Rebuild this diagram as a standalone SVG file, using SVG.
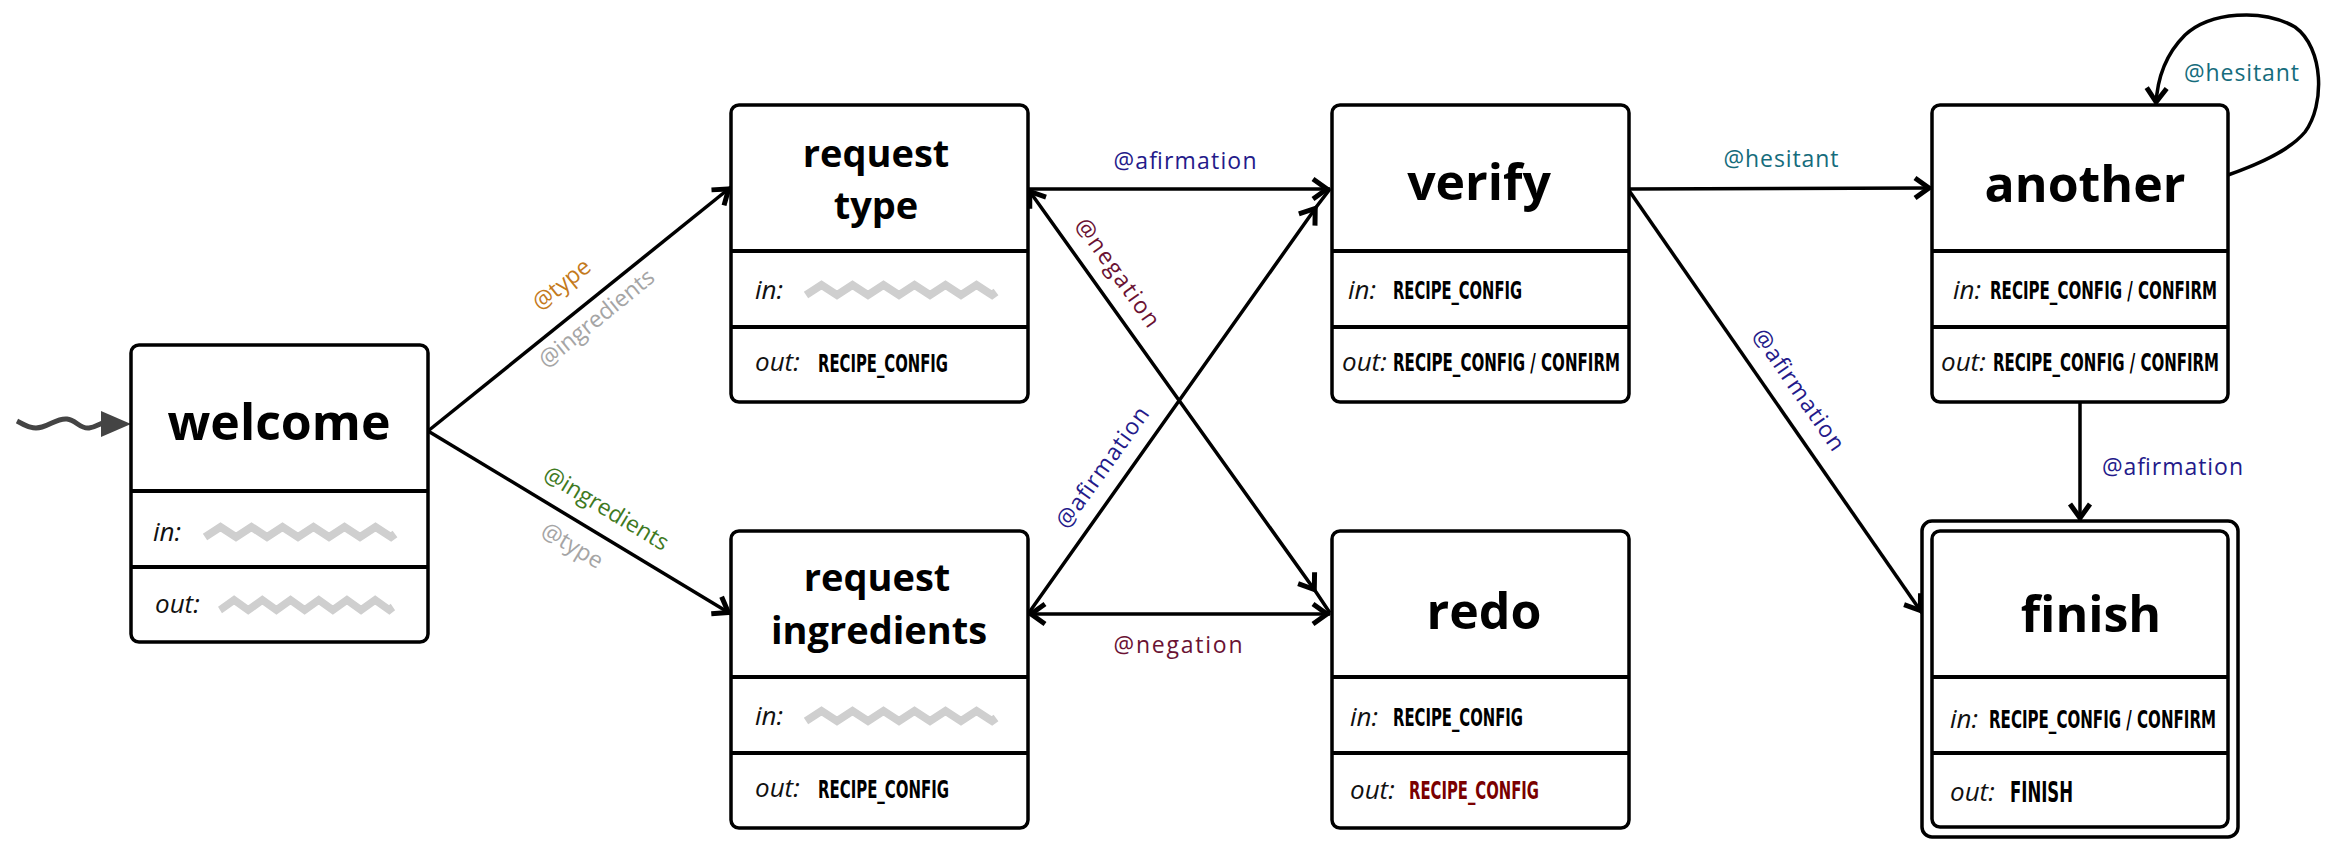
<svg xmlns="http://www.w3.org/2000/svg" xmlns:xlink="http://www.w3.org/1999/xlink" width="2340" height="856" viewBox="0 0 2340 856">
<style>
.box{fill:#fff;stroke:#000;stroke-width:3.5}
.dv{stroke:#000;stroke-width:4}
.title{font-family:"Open Sans","DejaVu Sans",sans-serif;font-weight:700;font-size:50px;text-anchor:middle;fill:#000}
.t2{font-size:38px}
.io{font-family:"Open Sans","DejaVu Sans",sans-serif;font-style:italic;font-size:26px;fill:#111}
.val{font-family:"Liberation Sans Narrow","DejaVu Sans Condensed","Roboto Condensed",sans-serif;font-weight:700;font-size:25px;fill:#000}
.lbl{font-family:"Open Sans","DejaVu Sans",sans-serif;font-size:23px}
.edge{fill:none;stroke:#000;stroke-width:3.5}
.zz{fill:none;stroke:#cfcfcf;stroke-width:8}
.navy{fill:#241a8a}
.maroon{fill:#6a1233}
.teal{fill:#156c7c}
.orange{fill:#c47a1c}
.green{fill:#3f7a1f}
.gray{fill:#a5a5a5}
</style>
<defs>
<marker id="ah" viewBox="-22 -14 26 28" refX="0" refY="0" markerWidth="26" markerHeight="28" markerUnits="userSpaceOnUse" orient="auto-start-reverse">
<path d="M-17,-10 L-3,0 L-17,10" fill="none" stroke="#000" stroke-width="5"/>
</marker>
<path id="zz" d="M0,14 L15.5,4 L31,14 L46.5,4 L62,14 L77.5,4 L93,14 L108.5,4 L124,14 L139.5,4 L155,14 L170.5,4 L186,14 L190,11"/>
</defs>

<g id="connectors">
<g id="initial">
<path d="M17,421 C25,425 32,430 42,427 C52,424 58,418 67,419 C76,420 80,429 89,428 C96,427 100,423 104,423" fill="none" stroke="#444" stroke-width="5"/>
<polygon points="101,411 131,424 101,437" fill="#444"/>
</g>
<path class="edge" d="M428,431 L731,187" marker-end="url(#ah)"/>
<path class="edge" d="M428,431 L731,614" marker-end="url(#ah)"/>
<path class="edge" d="M1028,189 L1330,189" marker-end="url(#ah)"/>
<path class="edge" d="M1028,189 L1316,592 L1330,613" marker-start="url(#ah)" marker-mid="url(#ah)"/>
<path class="edge" d="M1028,614 L1317,206 L1330,189" marker-mid="url(#ah)"/>
<path class="edge" d="M1028,614 L1330,614" marker-start="url(#ah)" marker-end="url(#ah)"/>
<path class="edge" d="M1628,189 L1932,188" marker-end="url(#ah)"/>
<path class="edge" d="M1628,189 L1922,613" marker-end="url(#ah)"/>
<path class="edge" d="M2080,402 L2080,521" marker-end="url(#ah)"/>
<path class="edge" stroke-width="3" d="M2228,175 C2262,163 2290,150 2305,132 C2325,105 2324,48 2295,27 C2262,8 2210,12 2185,35 C2165,55 2157,80 2156,105" marker-end="url(#ah)"/>

<text class="lbl orange" transform="translate(562,285) rotate(-39)" x="0" y="7" text-anchor="middle">@type</text>
<text class="lbl gray" transform="translate(597,319) rotate(-39)" x="0" y="7" text-anchor="middle">@ingredients</text>
<text class="lbl green" transform="translate(606,509) rotate(31)" x="0" y="7" text-anchor="middle">@ingredients</text>
<text class="lbl gray" transform="translate(572,546) rotate(31)" x="0" y="7" text-anchor="middle">@type</text>
<text class="lbl navy" x="1185" y="169" text-anchor="middle" textLength="143">@afirmation</text>
<text class="lbl maroon" transform="translate(1117,273) rotate(54.5)" x="0" y="7" text-anchor="middle" textLength="128">@negation</text>
<text class="lbl navy" transform="translate(1103,468) rotate(-54.5)" x="0" y="7" text-anchor="middle" textLength="143">@afirmation</text>
<text class="lbl maroon" x="1178" y="653" text-anchor="middle" textLength="129">@negation</text>
<text class="lbl teal" x="1781" y="167" text-anchor="middle" textLength="115">@hesitant</text>
<text class="lbl navy" transform="translate(1798,390) rotate(55.3)" x="0" y="7" text-anchor="middle" textLength="143">@afirmation</text>
<text class="lbl navy" x="2102" y="475" textLength="141">@afirmation</text>
<text class="lbl teal" x="2184" y="81" textLength="115">@hesitant</text>
</g>

<g id="welcome">
<rect class="box" x="131" y="345" width="297" height="297" rx="8"/>
<line class="dv" x1="131" y1="491" x2="428" y2="491"/>
<line class="dv" x1="131" y1="567" x2="428" y2="567"/>
<text class="title" x="279" y="440">welcome</text>
<text class="io" x="153" y="541">in:</text>
<use href="#zz" class="zz" transform="translate(205,523)"/>
<text class="io" x="155" y="613">out:</text>
<use href="#zz" class="zz" transform="translate(220,596) scale(0.91,1)"/>
</g>

<g id="request-type">
<rect class="box" x="731" y="105" width="297" height="297" rx="8"/>
<line class="dv" x1="731" y1="251" x2="1028" y2="251"/>
<line class="dv" x1="731" y1="327" x2="1028" y2="327"/>
<text class="title t2" x="876" y="167">request</text>
<text class="title t2" x="876" y="219">type</text>
<text class="io" x="755" y="299">in:</text>
<use href="#zz" class="zz" transform="translate(806,281)"/>
<text class="io" x="755" y="371">out:</text>
<text class="val" x="818" y="372" textLength="130" lengthAdjust="spacingAndGlyphs">RECIPE_CONFIG</text>
</g>

<g id="request-ingredients">
<rect class="box" x="731" y="531" width="297" height="297" rx="8"/>
<line class="dv" x1="731" y1="677" x2="1028" y2="677"/>
<line class="dv" x1="731" y1="753" x2="1028" y2="753"/>
<text class="title t2" x="877" y="591">request</text>
<text class="title t2" x="879" y="644">ingredients</text>
<text class="io" x="755" y="725">in:</text>
<use href="#zz" class="zz" transform="translate(806,707)"/>
<text class="io" x="755" y="797">out:</text>
<text class="val" x="818" y="798" textLength="131" lengthAdjust="spacingAndGlyphs">RECIPE_CONFIG</text>
</g>

<g id="verify">
<rect class="box" x="1332" y="105" width="297" height="297" rx="8"/>
<line class="dv" x1="1332" y1="251" x2="1629" y2="251"/>
<line class="dv" x1="1332" y1="327" x2="1629" y2="327"/>
<text class="title" x="1479" y="200">verify</text>
<text class="io" x="1348" y="299">in:</text>
<text class="val" x="1393" y="299" textLength="129" lengthAdjust="spacingAndGlyphs">RECIPE_CONFIG</text>
<text class="io" x="1342" y="371">out:</text>
<text class="val" x="1393" y="371" textLength="227" lengthAdjust="spacingAndGlyphs">RECIPE_CONFIG / CONFIRM</text>
</g>

<g id="redo">
<rect class="box" x="1332" y="531" width="297" height="297" rx="8"/>
<line class="dv" x1="1332" y1="677" x2="1629" y2="677"/>
<line class="dv" x1="1332" y1="753" x2="1629" y2="753"/>
<text class="title" x="1484" y="629">redo</text>
<text class="io" x="1350" y="726">in:</text>
<text class="val" x="1393" y="726" textLength="130" lengthAdjust="spacingAndGlyphs">RECIPE_CONFIG</text>
<text class="io" x="1350" y="799">out:</text>
<text class="val" x="1409" y="799" textLength="130" lengthAdjust="spacingAndGlyphs" style="fill:#7a0000">RECIPE_CONFIG</text>
</g>

<g id="another">
<rect class="box" x="1932" y="105" width="296" height="297" rx="8"/>
<line class="dv" x1="1932" y1="251" x2="2228" y2="251"/>
<line class="dv" x1="1932" y1="327" x2="2228" y2="327"/>
<text class="title" x="2085" y="202">another</text>
<text class="io" x="1953" y="299">in:</text>
<text class="val" x="1990" y="299" textLength="227" lengthAdjust="spacingAndGlyphs">RECIPE_CONFIG / CONFIRM</text>
<text class="io" x="1941" y="371">out:</text>
<text class="val" x="1993" y="371" textLength="226" lengthAdjust="spacingAndGlyphs">RECIPE_CONFIG / CONFIRM</text>
</g>

<g id="finish">
<rect class="box" x="1922" y="521" width="316" height="316" rx="10"/>
<rect class="box" x="1932" y="531" width="296" height="296" rx="8"/>
<line class="dv" x1="1932" y1="677" x2="2228" y2="677"/>
<line class="dv" x1="1932" y1="753" x2="2228" y2="753"/>
<text class="title" x="2091" y="632">finish</text>
<text class="io" x="1950" y="728">in:</text>
<text class="val" x="1989" y="728" textLength="227" lengthAdjust="spacingAndGlyphs">RECIPE_CONFIG / CONFIRM</text>
<text class="io" x="1950" y="801">out:</text>
<text class="val" x="2010" y="802" textLength="63" lengthAdjust="spacingAndGlyphs" style="font-size:28px">FINISH</text>
</g>
</svg>
